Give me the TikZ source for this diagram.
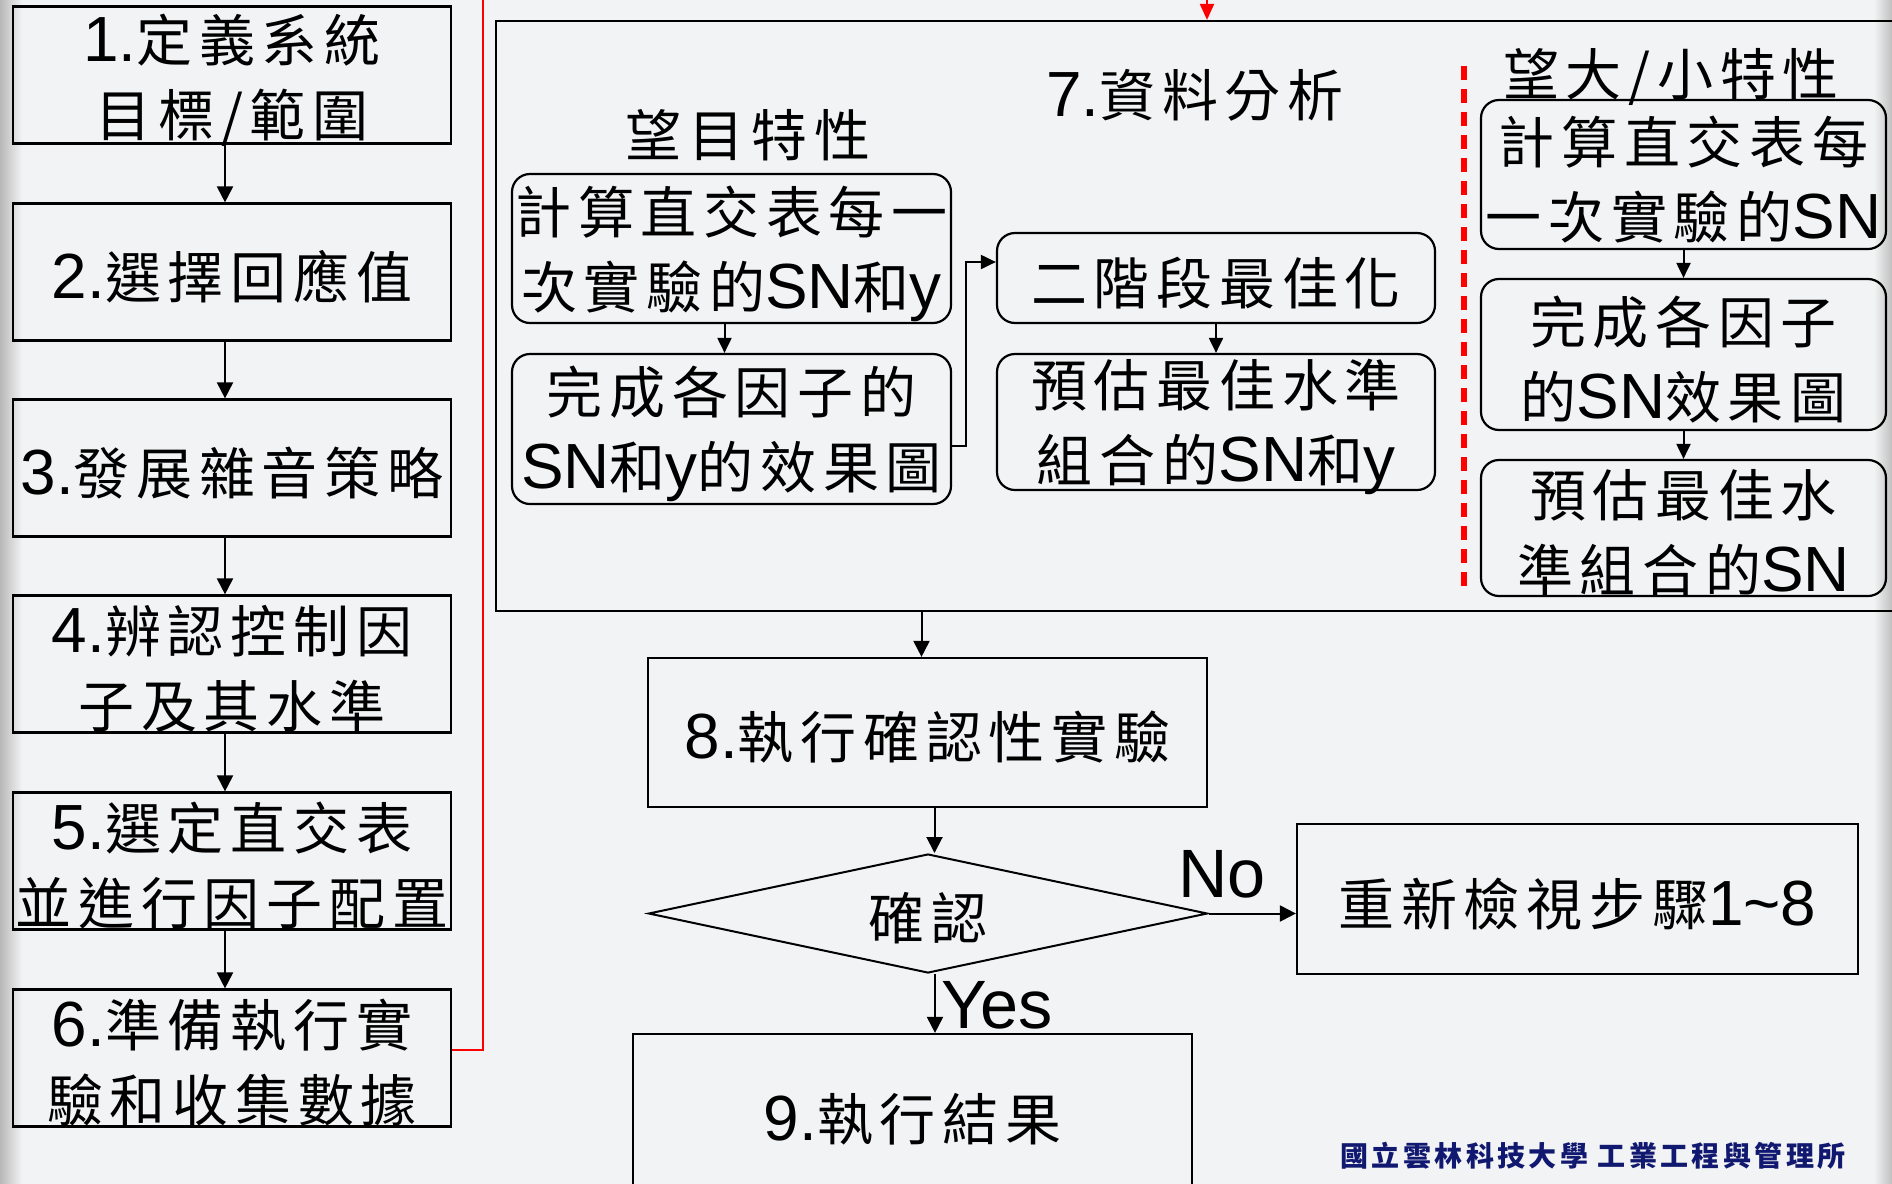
\documentclass[tikz,border=0pt]{standalone}
\usepackage{fontspec}
\setmainfont{Noto Sans CJK TC}[LetterSpace=12]
\newfontfamily\latnfont{Liberation Sans}[Scale=1.14]
\newcommand\latn[1]{{\latnfont #1}}
\usetikzlibrary{shapes.geometric,arrows.meta,calc}
\definecolor{bgc}{RGB}{242,243,244}
\definecolor{navyc}{RGB}{16,24,112}
\tikzset{
 box/.style={draw=black,line width=1.1pt,inner sep=0pt},
 lbox/.style={box,minimum width=219pt,minimum height=68.5pt},
 rbox/.style={box,rounded corners=9pt},
 arr/.style={-{Triangle[length=8pt,width=8pt]},line width=1pt},
 sarr/.style={-{Triangle[length=7.5pt,width=7pt]},line width=1pt},
 lbl/.style={inner sep=0pt,align=center,font=\fontsize{28}{37.5}\selectfont},
 yn/.style={inner sep=0pt,font=\latnfont\fontsize{30}{30}\selectfont},
}
\newcommand\boxtext[2]{\node[lbl] at ([yshift=-2.5pt]#1.center) {#2};}
\begin{document}
\begin{tikzpicture}[x=0.5pt,y=-0.5pt]
\useasboundingbox (0,0) rectangle (1892,1184);
\clip (0,0) rectangle (1892,1184);
\fill[bgc] (0,0) rectangle (1892,1184);
\shade[left color=black!28, right color=bgc] (0,0) rectangle (22,1184);
\shade[left color=bgc, right color=black!25] (1874,0) rectangle (1892,1184);

% left column
\node[lbox] (b1) at (232,75) {};
\node[lbox] (b2) at (232,272) {};
\node[lbox] (b3) at (232,468) {};
\node[lbox] (b4) at (232,664) {};
\node[lbox] (b5) at (232,861) {};
\node[lbox] (b6) at (232,1058) {};
\boxtext{b1}{\latn{1.}定義系統\\目標/範圍}
\boxtext{b2}{\latn{2.}選擇回應值}
\boxtext{b3}{\latn{3.}發展雜音策略}
\boxtext{b4}{\latn{4.}辨認控制因\\子及其水準}
\boxtext{b5}{\latn{5.}選定直交表\\並進行因子配置}
\boxtext{b6}{\latn{6.}準備執行實\\驗和收集數據}
\foreach \a/\b in {b1/b2,b2/b3,b3/b4,b4/b5,b5/b6}
  \draw[arr] ([xshift=-3.5pt]\a.south) -- ([xshift=-3.5pt]\b.north);

% big analysis box
\node[draw=black,line width=1.1pt,inner sep=0pt,minimum width=717pt,minimum height=295pt] (b7) at (1213,316) {};

% red feedback line
\coordinate (r1) at (483,-40);
\coordinate (r2) at (1207,-40);
\draw[red,line width=1pt,-{Triangle[length=8pt,width=7pt]}] ([yshift=4pt]b6.east) -| (r1) -- (r2) -- (r2 |- b7.north);

\node[lbl] (t7) at (1195,95) {\latn{7.}資料分析};
\node[lbl] (tm) at (748,135) {望目特性};
\node[lbl] (tb) at (1671,77) {望大/小特性};

\node[rbox,minimum width=219.5pt,minimum height=74.5pt] (A) at (731.5,248.5) {};
\node[rbox,minimum width=219.5pt,minimum height=75pt] (B) at (731.5,429) {};
\node[rbox,minimum width=219pt,minimum height=45pt] (C) at (1216,278) {};
\node[rbox,minimum width=219pt,minimum height=68pt] (D) at (1216,422) {};
\node[rbox,minimum width=202.5pt,minimum height=74.5pt] (E) at (1683.5,174.5) {};
\node[rbox,minimum width=202.5pt,minimum height=75.5pt] (F) at (1683.5,354.5) {};
\node[rbox,minimum width=202.5pt,minimum height=68pt] (G) at (1683.5,528) {};
\boxtext{A}{計算直交表每一\\次實驗的\latn{SN}和\latn{y}}
\boxtext{B}{完成各因子的\\\latn{SN}和\latn{y}的效果圖}
\boxtext{C}{二階段最佳化}
\boxtext{D}{預估最佳水準\\組合的\latn{SN}和\latn{y}}
\boxtext{E}{計算直交表每\\一次實驗的\latn{SN}}
\boxtext{F}{完成各因子\\的\latn{SN}效果圖}
\boxtext{G}{預估最佳水\\準組合的\latn{SN}}

\draw[sarr] ([xshift=-3.5pt]A.south) -- ([xshift=-3.5pt]B.north);
\draw[sarr] ([yshift=-8.5pt]B.east) -- ++(7pt,0) |- ([yshift=8pt]C.west);
\draw[sarr] (C.south) -- (D.north);
\draw[sarr] (E.south) -- (F.north);
\draw[sarr] (F.south) -- (G.north);

\coordinate (d1) at (1464,66);
\coordinate (d2) at (1464,595);
\draw[red,line width=2.6pt,dash pattern=on 7pt off 4.5pt] (d1) -- (d2);

% lower flow
\node[box,minimum width=279.5pt,minimum height=74.5pt] (b8) at (927.5,732.5) {};
\node[diamond,draw=black,line width=1pt,inner sep=0pt,aspect=4.7,minimum width=279.5pt,minimum height=59.5pt] (dia) at (928,913.5) {};
\node[box,minimum width=280.5pt,minimum height=75pt] (R) at (1577.5,899) {};
\node[box,minimum width=279.5pt,minimum height=80pt] (b9) at (912.5,1114) {};
\boxtext{b8}{\latn{8.}執行確認性實驗}
\boxtext{dia}{確認}
\boxtext{R}{重新檢視步驟\latn{1\textasciitilde 8}}
\boxtext{b9}{\latn{9.}執行結果}

\draw[arr] ([xshift=-3pt]b8.north |- b7.south) -- ([xshift=-3pt]b8.north);
\draw[arr] ([xshift=3.5pt]b8.south) -- ([xshift=3.5pt]b8.south |- dia.north);
\draw[arr] (dia.east) -- (R.west |- dia.east);
\draw[arr] ([xshift=3.5pt]dia.south) -- ([xshift=3.5pt]dia.south |- b9.north);
\node[yn] (no) at (1222,874) {No};
\node[yn] (yes) at (997,1005) {Yes};

\node[inner sep=0pt,text=navyc,font=\bfseries\fontsize{14}{15}\selectfont] (ft) at (1593,1156) {國立雲林科技大學 工業工程與管理所};
\end{tikzpicture}
\end{document}
